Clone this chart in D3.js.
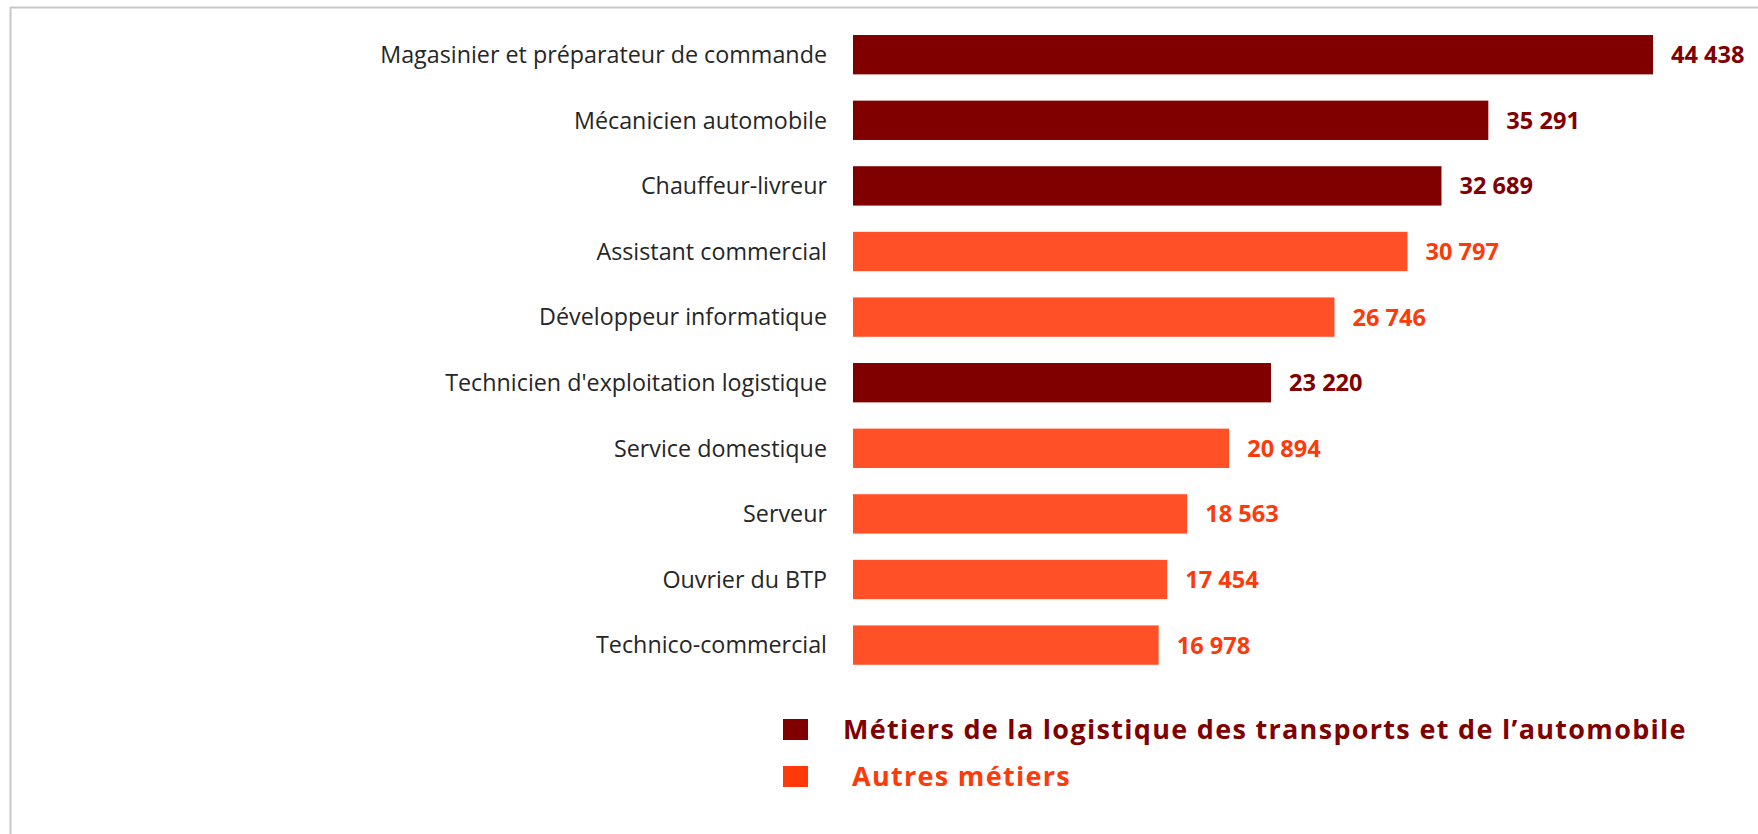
<!DOCTYPE html>
<html>
<head>
<meta charset="utf-8">
<script src="https://cdn.jsdelivr.net/npm/d3@7"></script>
<style>
    body { margin: 0; background: #fff; }
    svg { display: block; }
    .label { font-family: "Open Sans", sans-serif; font-size: 23.3px; fill: #262626; }
    .value { font-family: "Open Sans", sans-serif; font-size: 23.6px; font-weight: bold; }
    .legend-text { font-family: "Open Sans", sans-serif; font-size: 27px; font-weight: bold; letter-spacing: 1.3px; }
</style>
</head>
<body>
<svg id="chart"></svg>
<script>
// Data
var categories = [
    "Magasinier et préparateur de commande",
    "Mécanicien automobile",
    "Chauffeur-livreur",
    "Assistant commercial",
    "Développeur informatique",
    "Technicien d'exploitation logistique",
    "Service domestique",
    "Serveur",
    "Ouvrier du BTP",
    "Technico-commercial"
];
var values = [44438, 35291, 32689, 30797, 26746, 23220, 20894, 18563, 17454, 16978];
// 0 = logistique/transport/auto, 1 = autres
var groups = [0, 0, 0, 1, 1, 0, 1, 1, 1, 1];
var legendLabels = [
    "Métiers de la logistique des transports et de l’automobile",
    "Autres métiers"
];

var _width = 1758;
var _height = 834;

var barColors = ["#800000", "#FF5028"];
var textColors = ["#800000", "#FF3A0A"];

var svg = d3.select("#chart")
    .attr("width", _width)
    .attr("height", _height);

// frame (top and left edges only visible)
svg.append("line")
    .attr("x1", 10).attr("y1", 7.5).attr("x2", _width).attr("y2", 7.5)
    .attr("stroke", "#c8c8c8").attr("stroke-width", 2);
svg.append("line")
    .attr("x1", 10.5).attr("y1", 7).attr("x2", 10.5).attr("y2", _height)
    .attr("stroke", "#c8c8c8").attr("stroke-width", 2);

var data = categories.map(function(c, i) {
    return { name: c, value: values[i], group: groups[i] };
});

var x = d3.scaleLinear()
    .domain([0, d3.max(values)])
    .range([853, 1653]);

var y = d3.scaleBand()
    .domain(categories)
    .range([21.9, 677.9])
    .paddingInner(0.4)
    .paddingOuter(0.2);

var fmt = d3.formatLocale({ decimal: ",", thousands: " ", grouping: [3], currency: ["", " €"] }).format(",d");

var rows = svg.append("g").classed("bars", true)
    .selectAll(".row")
    .data(data)
    .enter()
    .append("g")
        .classed("row", true);

rows.append("rect")
    .attr("x", x(0))
    .attr("y", function(d) { return y(d.name); })
    .attr("width", function(d) { return x(d.value) - x(0); })
    .attr("height", y.bandwidth())
    .attr("fill", function(d) { return barColors[d.group]; });

rows.append("text")
    .classed("label", true)
    .attr("x", x(0) - 26)
    .attr("y", function(d) { return y(d.name) + y.bandwidth() / 2; })
    .attr("dy", "0.36em")
    .style("text-anchor", "end")
    .text(function(d) { return d.name; });

rows.append("text")
    .classed("value", true)
    .attr("x", function(d) { return x(d.value) + 18; })
    .attr("y", function(d) { return y(d.name) + y.bandwidth() / 2; })
    .attr("dy", "0.36em")
    .attr("fill", function(d) { return textColors[d.group]; })
    .text(function(d) { return fmt(d.value); });

// Legend
var legend = svg.append("g").classed("legend", true)
    .selectAll(".legend-item")
    .data(legendLabels)
    .enter()
    .append("g")
        .classed("legend-item", true)
        .attr("transform", function(d, i) {
            return "translate(783," + (719 + i * 47) + ")";
        });

legend.append("rect")
    .attr("width", 25)
    .attr("height", 21)
    .attr("fill", function(d, i) { return i === 0 ? "#800000" : "#FF3A0A"; });

legend.append("text")
    .classed("legend-text", true)
    .attr("x", function(d, i) { return i === 0 ? 60 : 69; })
    .attr("y", 20)
    .attr("fill", function(d, i) { return i === 0 ? "#800000" : "#FF3A0A"; })
    .text(function(d) { return d; });
</script>
</body>
</html>
